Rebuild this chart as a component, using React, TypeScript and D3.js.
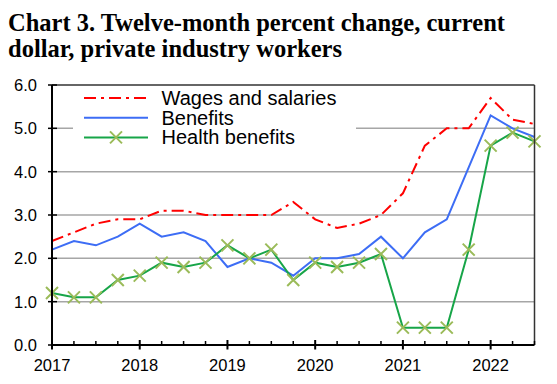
import { format, line, range, scaleLinear } from "d3";
import type { ReactElement } from "react";

// quarterly, Mar 2017 .. Sep 2022
const years = [2017, 2018, 2019, 2020, 2021, 2022];
const yTicks = [0, 1, 2, 3, 4, 5, 6];

const wages = [
  2.4, 2.6, 2.8, 2.9, 2.9, 3.1, 3.1, 3.0, 3.0, 3.0, 3.0, 3.3, 2.9, 2.7, 2.8, 3.0,
  3.5, 4.6, 5.0, 5.0, 5.7, 5.2, 5.1,
];
const benefits = [
  2.2, 2.4, 2.3, 2.5, 2.8, 2.5, 2.6, 2.4, 1.8, 2.0, 1.9, 1.6, 2.0, 2.0, 2.1, 2.5,
  2.0, 2.6, 2.9, 4.1, 5.3, 5.0, 4.8,
];
const health = [
  1.2, 1.1, 1.1, 1.5, 1.6, 1.9, 1.8, 1.9, 2.3, 2.0, 2.2, 1.5, 1.9, 1.8, 1.9, 2.1,
  0.4, 0.4, 0.4, 2.2, 4.6, 4.9, 4.7,
];

const W = 557;
const H = 384;
const LEFT = 52;
const RIGHT = 534.5;
const TOP = 85;
const BOTTOM = 345;

const RED = "#ff0000";
const BLUE = "#3d6df5";
const GREEN = "#17a548";
const MARK = "#9bbb59";
const FONT = "Arial, 'Liberation Sans', sans-serif";

const x = scaleLinear().domain([0, wages.length - 1]).range([LEFT, RIGHT]);
const y = scaleLinear().domain([0, 6]).range([BOTTOM, TOP]);
const fmt = format(".1f");

const path = (vals: number[]): string =>
  line<number>()
    .x((_, i) => x(i))
    .y((d) => y(d))(vals) ?? "";

const Cross = ({ cx, cy }: { cx: number; cy: number }): ReactElement => {
  const s = 6;
  return (
    <path
      d={`M${cx - s},${cy - s}L${cx + s},${cy + s}M${cx - s},${cy + s}L${cx + s},${cy - s}`}
      stroke={MARK}
      strokeWidth={2}
      fill="none"
    />
  );
};

export default function App(): ReactElement {
  const legend = [
    { label: "Wages and salaries", color: RED, dash: "12,5,3,5", mark: false },
    { label: "Benefits", color: BLUE, dash: undefined, mark: false },
    { label: "Health benefits", color: GREEN, dash: undefined, mark: true },
  ];

  return (
    <svg
      width={W}
      height={H}
      style={{ position: "absolute", left: 0, top: 0, background: "#fff" }}
    >
      <text fontFamily="'Liberation Serif', 'Times New Roman', serif" fontWeight="bold" fontSize={24.5}>
        <tspan x={8} y={31}>Chart 3. Twelve-month percent change, current</tspan>
        <tspan x={8} y={57}>dollar, private industry workers</tspan>
      </text>

      {/* gridlines */}
      {yTicks.slice(1, -1).map((t) => (
        <line key={t} x1={LEFT} x2={RIGHT} y1={y(t)} y2={y(t)} stroke="#a6a6a6" strokeWidth={1.5} />
      ))}

      {/* legend box hides part of the 5.0 gridline */}
      <rect x={73} y={87} width={283} height={58} fill="#fff" />
      {legend.map((l, i) => {
        const ly = 98 + i * 19.7;
        return (
          <g key={l.label}>
            <line x1={84} x2={148} y1={ly} y2={ly} stroke={l.color} strokeWidth={2} strokeDasharray={l.dash} />
            {l.mark && <Cross cx={116} cy={ly} />}
            <text x={161.5} y={ly + 7} fontFamily={FONT} fontSize={20} fill="#000">
              {l.label}
            </text>
          </g>
        );
      })}

      {/* series */}
      <path d={path(wages)} fill="none" stroke={RED} strokeWidth={2} strokeDasharray="12,5,3,5" />
      <path d={path(benefits)} fill="none" stroke={BLUE} strokeWidth={2} />
      <path d={path(health)} fill="none" stroke={GREEN} strokeWidth={2} />
      {health.map((v, i) => (
        <Cross key={i} cx={x(i)} cy={y(v)} />
      ))}

      {/* frame */}
      <line x1={LEFT} x2={RIGHT} y1={TOP} y2={TOP} stroke="#333" strokeWidth={1.5} />
      <line x1={RIGHT} x2={RIGHT} y1={TOP} y2={BOTTOM} stroke="#333" strokeWidth={1.5} />

      {/* y axis */}
      <line x1={LEFT} x2={LEFT} y1={TOP} y2={BOTTOM} stroke="#000" strokeWidth={2} />
      {yTicks.map((t) => (
        <g key={t}>
          <line x1={LEFT - 4} x2={LEFT + 5} y1={y(t)} y2={y(t)} stroke="#000" strokeWidth={1.5} />
          <text
            x={37}
            y={y(t)}
            dy="0.36em"
            textAnchor="end"
            fontFamily={FONT}
            fontSize={16.5}
            fill="#000"
          >
            {fmt(t)}
          </text>
        </g>
      ))}

      {/* x axis */}
      <line x1={LEFT} x2={RIGHT} y1={BOTTOM} y2={BOTTOM} stroke="#000" strokeWidth={2} />
      {range(wages.length).map((i) =>
        i % 4 === 0 ? (
          <line key={i} x1={x(i)} x2={x(i)} y1={BOTTOM - 5} y2={BOTTOM + 4.5} stroke="#000" strokeWidth={2} />
        ) : (
          <line key={i} x1={x(i)} x2={x(i)} y1={BOTTOM - 4} y2={BOTTOM} stroke="#000" strokeWidth={1.5} />
        ),
      )}
      {years.map((yr, i) => (
        <text
          key={yr}
          x={x(i * 4)}
          y={371}
          textAnchor="middle"
          fontFamily={FONT}
          fontSize={16.5}
          fill="#000"
        >
          {yr}
        </text>
      ))}
    </svg>
  );
}
